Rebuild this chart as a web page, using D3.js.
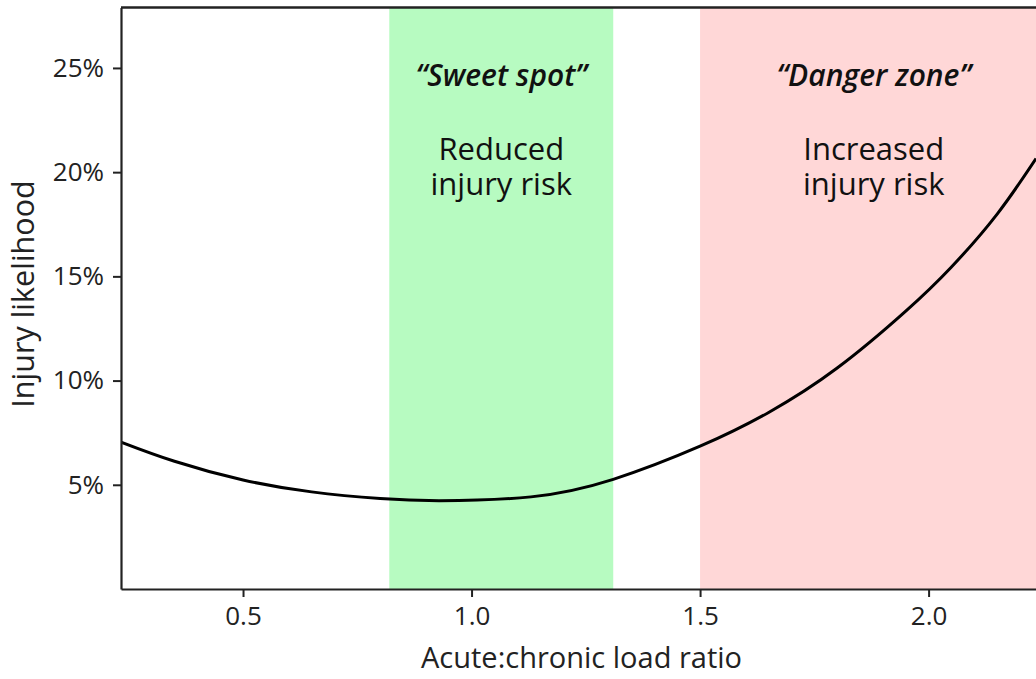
<!DOCTYPE html>
<html>
<head>
<meta charset="utf-8">
<script src="https://cdn.jsdelivr.net/npm/d3@7"></script>
<style>
  body { margin: 0; background: #fff; }
  svg { display: block; font-family: "Open Sans", sans-serif; }
</style>
</head>
<body>
<div id="chart"></div>
<script>
// curve: load ratio vs injury likelihood (%)
const ratio      = [0.233, 0.35, 0.5, 0.65, 0.8, 0.93, 1.13, 1.31, 1.5, 1.65, 1.8, 1.95, 2.05, 2.15, 2.235];
const likelihood = [7.05, 6.13, 5.23, 4.66, 4.34, 4.24, 4.42, 5.26, 6.85, 8.47, 10.6, 13.33, 15.45, 17.99, 20.65];

// shaded zones
const zoneNames  = ["Sweet spot", "Danger zone"];
const zoneStart  = [0.82, 1.5];
const zoneEnd    = [1.31, 2.3];
const zoneLabelX = [1.065, 1.88];
const zoneText   = [["Reduced", "injury risk"], ["Increased", "injury risk"]];
const zoneColors = ["#b7fbc1", "#ffd7d7"];

const xTicks = [0.5, 1.0, 1.5, 2.0];
const yTicks = [5, 10, 15, 20, 25];

const svgWidth = 1036;
const svgHeight = 679;

const margin = { top: 7.5, right: 0, bottom: 90, left: 121 };
const width = svgWidth - margin.left - margin.right;
const height = svgHeight - margin.top - margin.bottom;

const svg = d3.select("#chart")
  .append("svg")
  .attr("width", svgWidth)
  .attr("height", svgHeight);

const chartGroup = svg.append("g")
  .attr("transform", `translate(${margin.left}, ${margin.top})`);

// scales
const xScale = d3.scaleLinear()
  .domain([0.233, 2.235])
  .range([0, width]);

const yScale = d3.scaleLinear()
  .domain([0, 27.9])
  .range([height, 0]);

chartGroup.append("clipPath")
  .attr("id", "plot-clip")
  .append("rect")
  .attr("width", width)
  .attr("height", height);

// zone bands
const zones = zoneNames.map((name, i) => ({
  name: name,
  x0: zoneStart[i],
  x1: zoneEnd[i],
  lx: zoneLabelX[i],
  lines: zoneText[i],
  color: zoneColors[i]
}));

chartGroup.append("g")
  .attr("clip-path", "url(#plot-clip)")
  .selectAll("rect")
  .data(zones)
  .enter()
  .append("rect")
  .attr("x", d => xScale(d.x0))
  .attr("y", 0)
  .attr("width", d => xScale(d.x1) - xScale(d.x0))
  .attr("height", height)
  .attr("fill", d => d.color);

// zone labels
const labels = chartGroup.selectAll(".zone-label")
  .data(zones)
  .enter()
  .append("g")
  .attr("class", "zone-label")
  .attr("transform", d => `translate(${xScale(d.lx)}, 0)`);

labels.append("text")
  .attr("y", 78)
  .attr("text-anchor", "middle")
  .style("font-size", "30px")
  .style("font-weight", 600)
  .style("font-style", "italic")
  .style("fill", "#111")
  .text(d => `\u201C${d.name}\u201D`);

labels.append("text")
  .attr("text-anchor", "middle")
  .style("font-size", "31px")
  .style("font-weight", 500)
  .style("fill", "#111")
  .selectAll("tspan")
  .data(d => d.lines)
  .enter()
  .append("tspan")
  .attr("x", 0)
  .attr("y", (d, i) => 152 + i * 35)
  .text(d => d);

// the curve
const points = ratio.map((r, i) => ({ r: r, v: likelihood[i] }));

const line = d3.line()
  .x(d => xScale(d.r))
  .y(d => yScale(d.v))
  .curve(d3.curveNatural);

chartGroup.append("path")
  .datum(points)
  .attr("clip-path", "url(#plot-clip)")
  .attr("d", line)
  .attr("fill", "none")
  .attr("stroke", "#000")
  .attr("stroke-width", 3);

// axes
const bottomAxis = d3.axisBottom(xScale)
  .tickValues(xTicks)
  .tickFormat(d3.format(".1f"))
  .tickSize(8)
  .tickPadding(10)
  .tickSizeOuter(0);

const leftAxis = d3.axisLeft(yScale)
  .tickValues(yTicks)
  .tickFormat(d => d + "%")
  .tickSize(8)
  .tickPadding(9)
  .tickSizeOuter(0);

const xAxisG = chartGroup.append("g")
  .attr("transform", `translate(0, ${height})`)
  .call(bottomAxis);

const yAxisG = chartGroup.append("g")
  .call(leftAxis);

[xAxisG, yAxisG].forEach(g => {
  g.select(".domain").attr("stroke", "#222").attr("stroke-width", 2.2);
  g.selectAll(".tick line").attr("stroke", "#222").attr("stroke-width", 2);
  g.selectAll(".tick text")
    .style("font-family", "'Open Sans', sans-serif")
    .style("font-size", "26px")
    .style("fill", "#222");
});

// top frame line
chartGroup.append("line")
  .attr("x1", 0)
  .attr("x2", width)
  .attr("y1", 0)
  .attr("y2", 0)
  .attr("stroke", "#222")
  .attr("stroke-width", 2.5);

// axis titles
chartGroup.append("text")
  .attr("x", width / 2 + 3)
  .attr("y", height + 79)
  .attr("text-anchor", "middle")
  .style("font-size", "29px")
  .style("fill", "#222")
  .text("Acute:chronic load ratio");

chartGroup.append("text")
  .attr("transform", "rotate(-90)")
  .attr("x", -286.5)
  .attr("y", 34 - margin.left)
  .attr("text-anchor", "middle")
  .style("font-size", "30.5px")
  .style("fill", "#222")
  .text("Injury likelihood");
</script>
</body>
</html>
